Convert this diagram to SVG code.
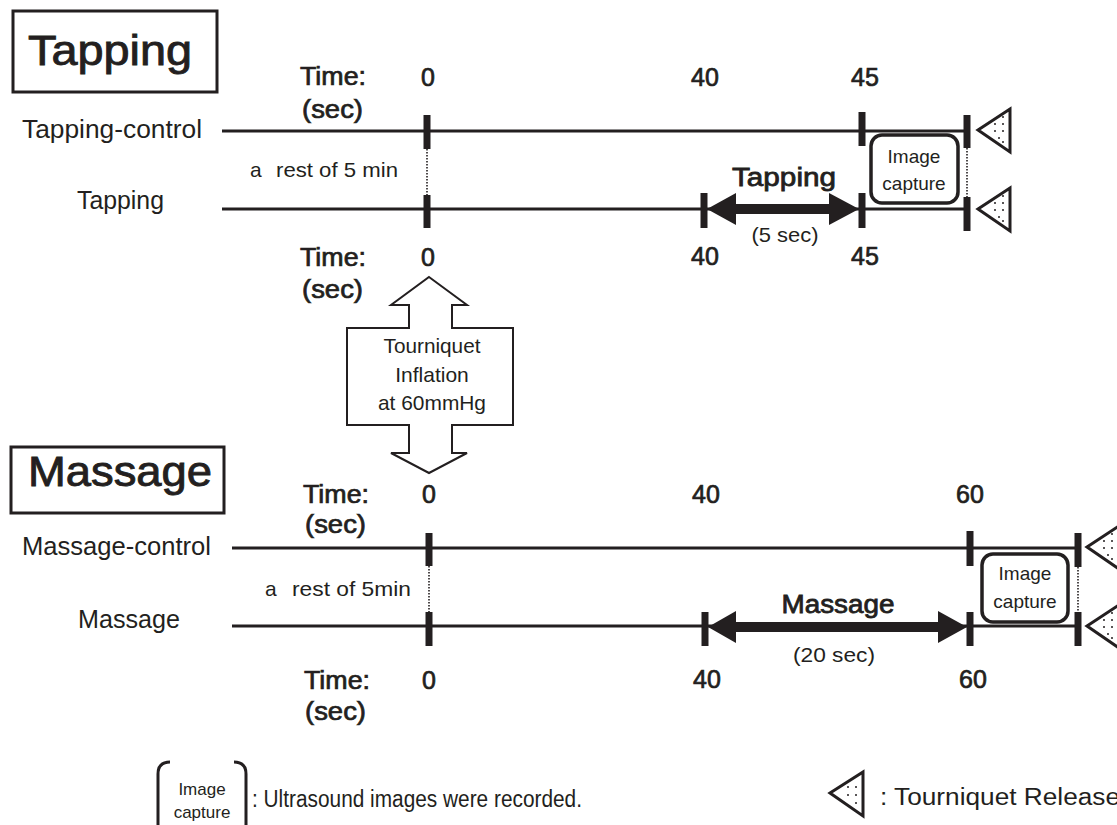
<svg xmlns="http://www.w3.org/2000/svg" width="1117" height="825" viewBox="0 0 1117 825">
<style>
text{font-family:"Liberation Sans",Arial,sans-serif;fill:#231f20}
.ttl{font-size:43px;stroke:#231f20;stroke-width:0.9}
.lab{font-size:26px}
.b{font-size:25px;stroke:#231f20;stroke-width:0.7}
.rest{font-size:21px}
.sm{font-size:19px}
.lg{font-size:23px}
.c{text-anchor:middle}
.ln{stroke:#231f20;stroke-width:3;fill:none}
.tk{stroke:#231f20;stroke-width:7;fill:none}
.dot{stroke:#231f20;stroke-width:1.6;stroke-dasharray:1.6 1.4;fill:none}
.box{stroke:#231f20;stroke-width:3.5;fill:#fff}
.tri{stroke:#231f20;stroke-width:3;fill:#fff;stroke-linejoin:miter}
.hd{fill:#231f20}
.al{font-size:26px;stroke:#231f20;stroke-width:0.8}
</style>
<defs>
<g id="rel">
<polygon class="tri" points="0,0 32,-21 32,22"/>
<g fill="#231f20"><circle cx="17" cy="-6" r="1"/><circle cx="25" cy="-6" r="1"/><circle cx="17" cy="1" r="1"/><circle cx="25" cy="1" r="1"/><circle cx="21" cy="8" r="1"/><circle cx="25" cy="12" r="1"/><circle cx="25" cy="-13" r="1"/></g>
</g>
</defs>

<g id="tapping-title">
<rect x="13" y="11" width="204" height="81" fill="#fff" stroke="#231f20" stroke-width="3"/>
<text class="ttl" x="28" y="65" textLength="164" lengthAdjust="spacingAndGlyphs">Tapping</text>
</g>

<g id="tapping-time-labels">
<text class="b" x="300" y="85" textLength="66" lengthAdjust="spacingAndGlyphs">Time:</text>
<text class="b" x="302" y="118" textLength="61" lengthAdjust="spacingAndGlyphs">(sec)</text>
<text class="b c" x="428" y="86">0</text>
<text class="b c" x="705" y="86">40</text>
<text class="b c" x="865" y="86">45</text>
<text class="b" x="300" y="266" textLength="66" lengthAdjust="spacingAndGlyphs">Time:</text>
<text class="b" x="302" y="298" textLength="61" lengthAdjust="spacingAndGlyphs">(sec)</text>
<text class="b c" x="428" y="266">0</text>
<text class="b c" x="705" y="265">40</text>
<text class="b c" x="865" y="265">45</text>
</g>

<g id="tapping-rows">
<text class="lab" x="22" y="138" textLength="180" lengthAdjust="spacingAndGlyphs">Tapping-control</text>
<text class="lab" x="77" y="209" textLength="87" lengthAdjust="spacingAndGlyphs">Tapping</text>
<text class="rest" x="250" y="177">a</text>
<text class="rest" x="276" y="177" textLength="122" lengthAdjust="spacingAndGlyphs">rest of 5 min</text>
</g>

<g id="connectors">
<line class="ln" x1="222" y1="131" x2="966" y2="131"/>
<line class="ln" x1="222" y1="209" x2="966" y2="209"/>
<line class="tk" x1="427" y1="115" x2="427" y2="149"/>
<line class="tk" x1="427" y1="195" x2="427" y2="228"/>
<line class="dot" x1="427" y1="149" x2="427" y2="195"/>
<line class="tk" x1="862" y1="112" x2="862" y2="146"/>
<line class="tk" x1="967" y1="115" x2="967" y2="148"/>
<line class="dot" x1="967" y1="148" x2="967" y2="197"/>
<line class="tk" x1="967" y1="197" x2="967" y2="231"/>
<line class="tk" x1="704" y1="193" x2="704" y2="228"/>
<line class="tk" x1="862" y1="193" x2="862" y2="228"/>
<line stroke="#231f20" stroke-width="10" x1="734" y1="209" x2="831" y2="209"/>
<polygon class="hd" points="707,209 736,193 736,225"/>
<polygon class="hd" points="859,209 829,193 829,225"/>
<line class="ln" x1="232" y1="548" x2="1078" y2="548"/>
<line class="ln" x1="232" y1="626" x2="1078" y2="626"/>
<line class="tk" x1="429" y1="533" x2="429" y2="566"/>
<line class="dot" x1="429" y1="566" x2="429" y2="612"/>
<line class="tk" x1="429" y1="612" x2="429" y2="646"/>
<line class="tk" x1="970" y1="531" x2="970" y2="566"/>
<line class="tk" x1="970" y1="612" x2="970" y2="646"/>
<line class="tk" x1="705" y1="612" x2="705" y2="646"/>
<line class="tk" x1="1078" y1="533" x2="1078" y2="567"/>
<line class="dot" x1="1078" y1="567" x2="1078" y2="612"/>
<line class="tk" x1="1078" y1="612" x2="1078" y2="646"/>
<line stroke="#231f20" stroke-width="10" x1="734" y1="627" x2="940" y2="627"/>
<polygon class="hd" points="708,627 736,611 736,643"/>
<polygon class="hd" points="967,627 938,611 938,643"/>
</g>

<g id="tapping-arrow-label">
<text class="al c" x="784" y="186" textLength="104" lengthAdjust="spacingAndGlyphs">Tapping</text>
<text class="rest c" x="785" y="242" textLength="67" lengthAdjust="spacingAndGlyphs">(5 sec)</text>
</g>

<g id="tapping-capture">
<rect class="box" x="871" y="135" width="87" height="68" rx="11"/>
<text class="sm c" x="914" y="163">Image</text>
<text class="sm c" x="914" y="190">capture</text>
</g>

<g id="tapping-release">
<use href="#rel" x="978" y="130"/>
<use href="#rel" x="978" y="209"/>
</g>

<g id="tourniquet">
<polygon fill="#fff" stroke="#231f20" stroke-width="2" stroke-linejoin="miter" points="429,277 467,305 452,305 452,328 513,328 513,425 452,425 452,453 467,453 429,473 391,453 409,453 409,425 347,425 347,328 409,328 409,305 391,305"/>
<text class="rest c" x="432" y="353" textLength="97" lengthAdjust="spacingAndGlyphs">Tourniquet</text>
<text class="rest c" x="432" y="382">Inflation</text>
<text class="rest c" x="432" y="410" textLength="108" lengthAdjust="spacingAndGlyphs">at 60mmHg</text>
</g>

<g id="massage-title">
<rect x="11" y="447" width="213" height="66" fill="#fff" stroke="#231f20" stroke-width="3"/>
<text class="ttl" x="28" y="486" textLength="184" lengthAdjust="spacingAndGlyphs">Massage</text>
</g>

<g id="massage-time-labels">
<text class="b" x="303" y="503" textLength="66" lengthAdjust="spacingAndGlyphs">Time:</text>
<text class="b" x="305" y="533" textLength="61" lengthAdjust="spacingAndGlyphs">(sec)</text>
<text class="b c" x="429" y="503">0</text>
<text class="b c" x="706" y="503">40</text>
<text class="b c" x="970" y="503">60</text>
<text class="b" x="304" y="689" textLength="66" lengthAdjust="spacingAndGlyphs">Time:</text>
<text class="b" x="305" y="720" textLength="61" lengthAdjust="spacingAndGlyphs">(sec)</text>
<text class="b c" x="429" y="689">0</text>
<text class="b c" x="707" y="688">40</text>
<text class="b c" x="973" y="688">60</text>
</g>

<g id="massage-rows">
<text class="lab" x="22" y="555" textLength="189" lengthAdjust="spacingAndGlyphs">Massage-control</text>
<text class="lab" x="78" y="628" textLength="102" lengthAdjust="spacingAndGlyphs">Massage</text>
<text class="rest" x="265" y="596">a</text>
<text class="rest" x="292" y="596" textLength="119" lengthAdjust="spacingAndGlyphs">rest of 5min</text>
</g>

<g id="massage-arrow-label">
<text class="al c" x="838" y="613" textLength="113" lengthAdjust="spacingAndGlyphs">Massage</text>
<text class="rest c" x="834" y="662" textLength="82" lengthAdjust="spacingAndGlyphs">(20 sec)</text>
</g>

<g id="massage-capture">
<rect class="box" x="982" y="554" width="86" height="68" rx="11"/>
<text class="sm c" x="1025" y="580">Image</text>
<text class="sm c" x="1025" y="608">capture</text>
</g>

<g id="massage-release">
<use href="#rel" x="1087" y="547"/>
<use href="#rel" x="1087" y="626"/>
</g>

<g id="legend-capture">
<path class="ln" d="M170,762 Q158,762 158,774 L158,830 M234,762 Q246,762 246,774 L246,830"/>
<text class="c" style="font-size:17px" x="202" y="795">Image</text>
<text class="c" style="font-size:17px" x="202" y="818">capture</text>
<text class="lg" x="252" y="807" textLength="330" lengthAdjust="spacingAndGlyphs">: Ultrasound images were recorded.</text>
</g>

<g id="legend-release">
<polygon class="tri" points="830,793 863,772 863,816"/>
<g fill="#231f20"><circle cx="848" cy="787" r="1"/><circle cx="856" cy="787" r="1"/><circle cx="848" cy="795" r="1"/><circle cx="856" cy="795" r="1"/><circle cx="856" cy="803" r="1"/></g>
<text class="lg" x="880" y="805" textLength="240" lengthAdjust="spacingAndGlyphs">: Tourniquet Release</text>
</g>
</svg>
